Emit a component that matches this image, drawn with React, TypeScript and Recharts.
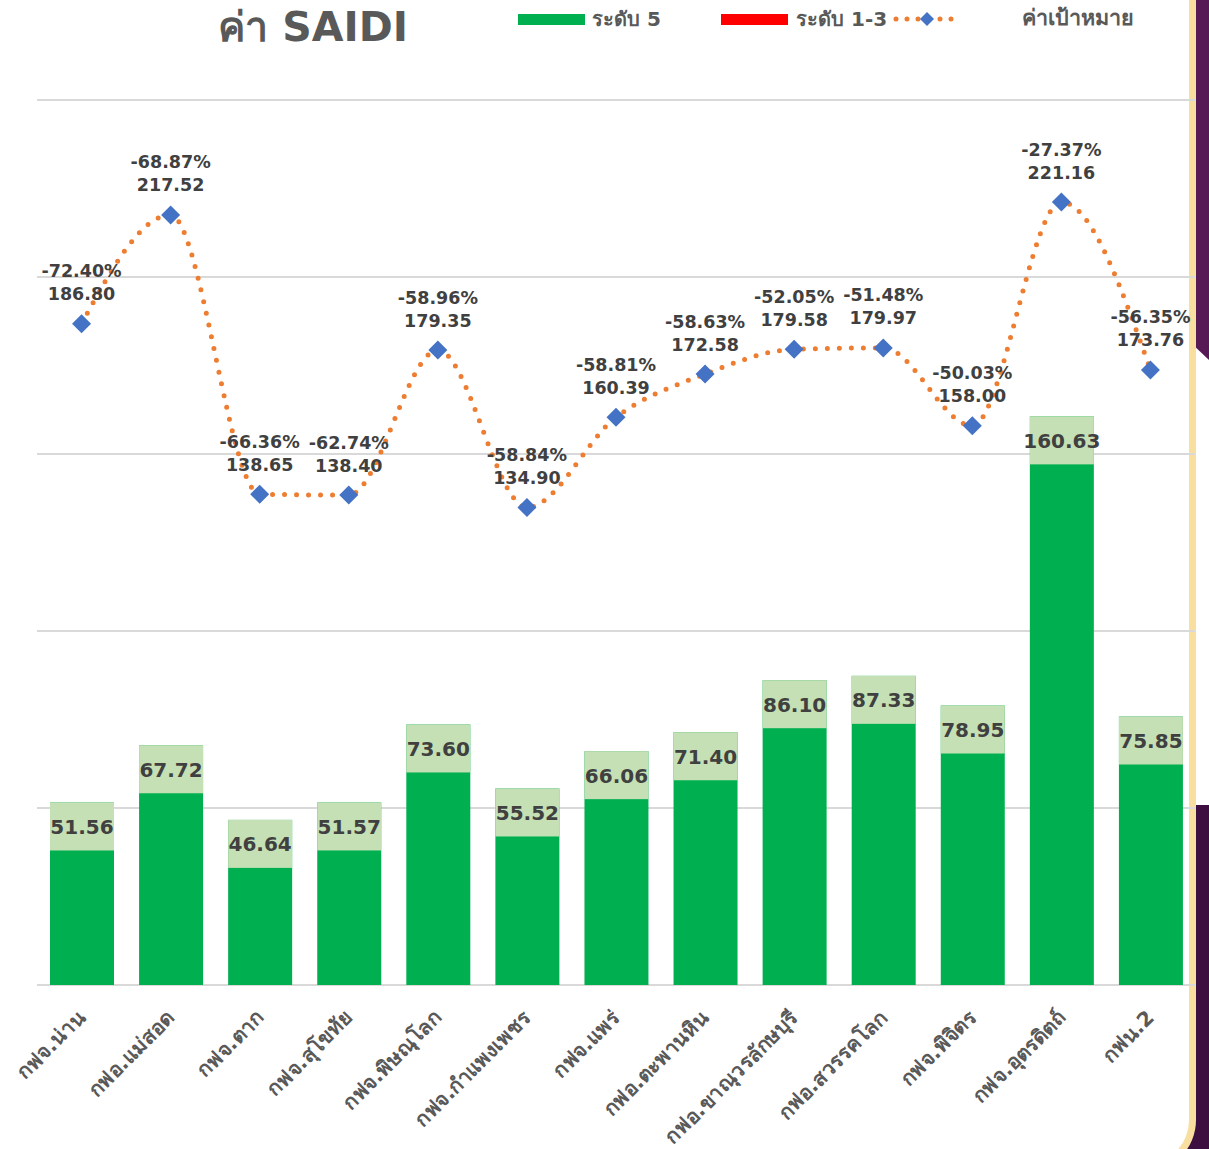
import React from 'react';
import { ComposedChart, Bar, Line, XAxis, YAxis, CartesianGrid, LabelList } from 'recharts';

const categories = [
  'กฟจ.น่าน', 'กฟอ.แม่สอด', 'กฟจ.ตาก', 'กฟจ.สุโขทัย', 'กฟจ.พิษณุโลก', 'กฟจ.กำแพงเพชร', 'กฟจ.แพร่',
  'กฟอ.ตะพานหิน', 'กฟอ.ขาณุวรลักษบุรี', 'กฟอ.สวรรคโลก', 'กฟจ.พิจิตร', 'กฟจ.อุตรดิตถ์', 'กฟน.2',
];
const level5 = [51.56, 67.72, 46.64, 51.57, 73.6, 55.52, 66.06, 71.4, 86.1, 87.33, 78.95, 160.63, 75.85];
const level13 = [0, 0, 0, 0, 0, 0, 0, 0, 0, 0, 0, 0, 0];
const target = [186.8, 217.52, 138.65, 138.4, 179.35, 134.9, 160.39, 172.58, 179.58, 179.97, 158.0, 221.16, 173.76];
const percents = ['-72.40%', '-68.87%', '-66.36%', '-62.74%', '-58.96%', '-58.84%', '-58.81%', '-58.63%', '-52.05%', '-51.48%', '-50.03%', '-27.37%', '-56.35%'];
const yTicks = [0, 50, 100, 150, 200, 250];
const seriesNames = ['ระดับ 5', 'ระดับ 1-3', 'ค่าเป้าหมาย'];
const titleText = 'ค่า SAIDI';

const data = categories.map((name, i) => ({
  name,
  level5: level5[i],
  level13: level13[i],
  target: target[i],
  pct: percents[i],
}));

const FONT = "'DejaVu Sans', Tahoma, 'Noto Sans', sans-serif";
const GREEN = '#00B050';
const LIGHT = '#C5E0B4';
const RED = '#FF0000';
const ORANGE = '#ED7D31';
const BLUE = '#4472C4';
const TXT = '#404040';
const GRAY = '#595959';

const BarShape = (props: any) => {
  const { x, y, width, height, value } = props;
  if (!height || height <= 0) return null;
  const box = Math.min(48, height);
  const v = Array.isArray(value) ? value[1] - value[0] : value;
  return (
    <g>
      <rect x={x} y={y} width={width} height={height} fill={GREEN} />
      <rect x={x} y={y} width={width} height={box} fill={LIGHT} />
      <text x={x + width / 2} y={y + 24} dy={7.5} textAnchor="middle" fontFamily={FONT} fontWeight="bold" fontSize={20} fill={TXT}>
        {Number(v).toFixed(2)}
      </text>
    </g>
  );
};

const Diamond = (props: any) => {
  const { cx, cy } = props;
  if (cx == null || cy == null) return null;
  const r = 9.5;
  return <polygon points={`${cx},${cy - r} ${cx + r},${cy} ${cx},${cy + r} ${cx - r},${cy}`} fill={BLUE} />;
};

const LineLabel = (props: any) => {
  const { x, y, index } = props;
  return (
    <g>
      <text x={x} y={y - 53} dy={6.5} textAnchor="middle" fontFamily={FONT} fontWeight="bold" fontSize={17.5} fill={TXT}>
        {percents[index]}
      </text>
      <text x={x} y={y - 30} dy={6.5} textAnchor="middle" fontFamily={FONT} fontWeight="bold" fontSize={17.5} fill={TXT}>
        {Number(target[index]).toFixed(2)}
      </text>
    </g>
  );
};

const XTick = (props: any) => {
  const { x, y, payload } = props;
  const ax = x + 5;
  const ay = y + 26;
  return (
    <text
      x={ax}
      y={ay}
      textAnchor="end"
      transform={`rotate(-45 ${ax} ${ay})`}
      fontFamily={FONT}
      fontWeight="bold"
      fontSize={20.5}
      fill={GRAY}
    >
      {payload.value}
    </text>
  );
};

const Header = () => (
  <div style={{ position: 'absolute', left: 0, top: 0, width: 1209, height: 60, fontFamily: FONT }}>
    <div style={{ position: 'absolute', left: 218, top: 0, fontSize: 41, fontWeight: 'bold', color: GRAY, lineHeight: '54px', whiteSpace: 'nowrap' }}>
      {titleText}
    </div>
    <div style={{ position: 'absolute', left: 518, top: 14, width: 67, height: 11, background: GREEN }} />
    <div style={{ position: 'absolute', left: 592, top: 5, fontSize: 20, fontWeight: 'bold', color: GRAY, lineHeight: '28px', whiteSpace: 'nowrap' }}>{seriesNames[0]}</div>
    <div style={{ position: 'absolute', left: 721, top: 14, width: 67, height: 11, background: RED }} />
    <div style={{ position: 'absolute', left: 796, top: 5, fontSize: 20, fontWeight: 'bold', color: GRAY, lineHeight: '28px', whiteSpace: 'nowrap' }}>{seriesNames[1]}</div>
    <svg style={{ position: 'absolute', left: 880, top: 8 }} width={80} height={24}>
      <line x1={16} y1={11} x2={76} y2={11} stroke={ORANGE} strokeWidth={5} strokeDasharray="0 11" strokeLinecap="round" />
      <polygon points="47,4 54,11 47,18 40,11" fill={BLUE} />
    </svg>
    <div style={{ position: 'absolute', left: 1022, top: 4, fontSize: 21.5, fontWeight: 'bold', color: GRAY, lineHeight: '28px', whiteSpace: 'nowrap' }}>{seriesNames[2]}</div>
  </div>
);

export default function App() {
  return (
    <div style={{ position: 'absolute', left: 0, top: 0, width: 1209, height: 1149, overflow: 'hidden', background: '#ffffff' }}>
      {/* right decorative strip */}
      <div style={{ position: 'absolute', left: 1190, top: 0, width: 19, height: 360, background: '#581A55', clipPath: 'polygon(0 0, 100% 0, 100% 100%, 0 95%)' }} />
      <div style={{ position: 'absolute', left: 1150, top: 805, width: 59, height: 344, background: '#3D0F40' }} />
      {/* white panel with gold border */}
      <div
        style={{
          position: 'absolute',
          left: -20,
          top: -20,
          width: 1216,
          height: 1192,
          background: '#ffffff',
          borderRight: '7px solid #F8DF9F',
          borderBottom: '7px solid #F8DF9F',
          borderBottomRightRadius: 52,
          boxSizing: 'border-box',
        }}
      />
      <div style={{ position: 'absolute', left: 0, top: 0 }}>
        <ComposedChart
          width={1209}
          height={1149}
          data={data}
          margin={{ top: 100, right: 14, left: 37, bottom: 0 }}
          barCategoryGap="28%"
        >
          <CartesianGrid vertical={false} stroke="#D9D9D9" strokeWidth={2} />
          <XAxis dataKey="name" height={164} axisLine={false} tickLine={false} interval={0} tick={<XTick />} />
          <YAxis hide domain={[0, 250]} ticks={yTicks} />
          <Bar dataKey="level5" name={seriesNames[0]} stackId="a" fill={GREEN} barSize={64} shape={<BarShape />} isAnimationActive={false} />
          <Bar dataKey="level13" name={seriesNames[1]} stackId="a" fill={RED} barSize={64} isAnimationActive={false} />
          <Line
            dataKey="target"
            name={seriesNames[2]}
            type="monotone"
            stroke={ORANGE}
            strokeWidth={5}
            strokeDasharray="0 12"
            strokeLinecap="round"
            dot={<Diamond />}
            activeDot={false}
            isAnimationActive={false}
          >
            <LabelList dataKey="target" content={<LineLabel />} />
          </Line>
        </ComposedChart>
      </div>
      <Header />
    </div>
  );
}
